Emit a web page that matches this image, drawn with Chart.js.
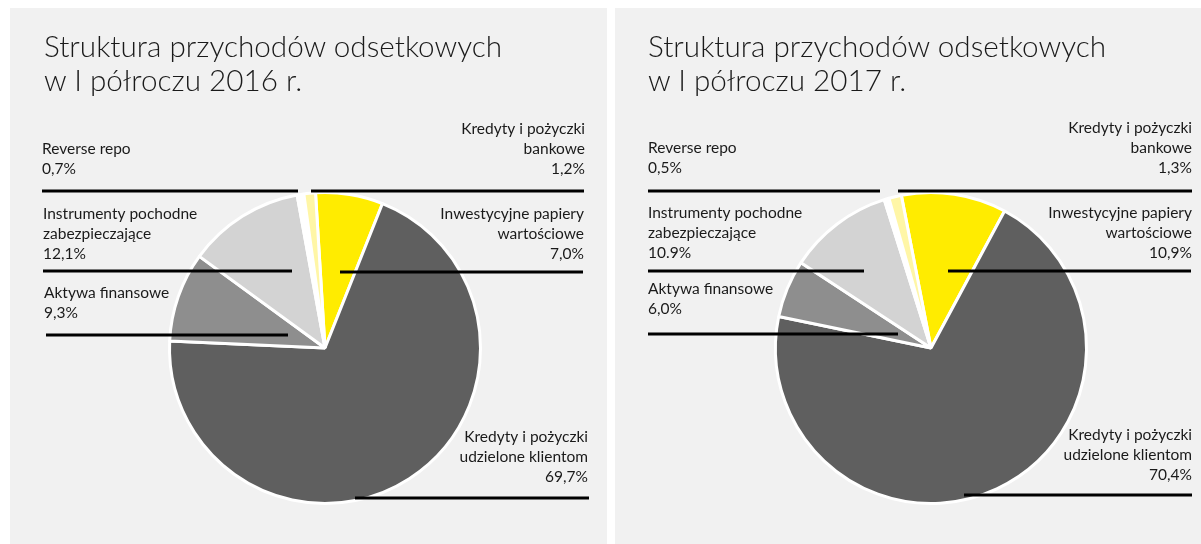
<!DOCTYPE html>
<html>
<head>
<meta charset="utf-8">
<script src="https://cdn.jsdelivr.net/npm/chart.js@4.4.1/dist/chart.umd.min.js"></script>
<style>
  html, body { margin: 0; padding: 0; background: #fff; }
  body { width: 1201px; height: 544px; position: relative; overflow: hidden; font-family: Lato, "Noto Sans", sans-serif; }
  .panel { position: absolute; top: 8px; height: 536px; background: #f1f1f1; }
  .panel canvas { position: absolute; left: 0; top: 0; }
  .title { position: absolute; left: 34px; top: 21px; font-size: 29.7px; line-height: 34px; color: #1a1a1a; font-weight: 300; white-space: nowrap; }
</style>
</head>
<body>
<div class="panel" id="p2016" style="left:10px;width:597px;">
  <canvas id="c2016" width="597" height="536"></canvas>
  <div class="title">Struktura przychodów odsetkowych<br>w I półroczu 2016 r.</div>
</div>
<div class="panel" id="p2017" style="left:615px;width:586px;">
  <canvas id="c2017" width="586" height="536"></canvas>
  <div class="title" style="left:33px;">Struktura przychodów odsetkowych<br>w I półroczu 2017 r.</div>
</div>
<script>
  // categories, clockwise from the top
  const categories = [
    ["Inwestycyjne papiery", "wartościowe"],
    ["Kredyty i pożyczki", "udzielone klientom"],
    ["Aktywa finansowe"],
    ["Instrumenty pochodne", "zabezpieczające"],
    ["Reverse repo"],
    ["Kredyty i pożyczki", "bankowe"],
  ];
  const values2016 = [7.0, 69.7, 9.3, 12.1, 0.7, 1.2];
  const values2017 = [10.9, 70.4, 6.0, 10.9, 0.5, 1.3];
  const pct2016 = ["7,0%", "69,7%", "9,3%", "12,1%", "0,7%", "1,2%"];
  const pct2017 = ["10,9%", "70,4%", "6,0%", "10.9%", "0,5%", "1,3%"];
  const sliceColors = ["#ffec00", "#5f5f5f", "#8e8e8e", "#d3d3d3", "#ffffff", "#fff6a6"];

  // label placement inside each panel (panel pixels): text anchor, first line y, leader y and span
  const place2016 = [
    { align: "right", x: 574, y: 206, lineY: 264, x1: 330, x2: 573 },
    { align: "right", x: 578, y: 429, lineY: 490, x1: 345, x2: 579 },
    { align: "left", x: 34, y: 285, lineY: 327, x1: 36, x2: 278 },
    { align: "left", x: 33, y: 206, lineY: 263, x1: 33, x2: 282 },
    { align: "left", x: 32, y: 141, lineY: 183, x1: 32, x2: 288 },
    { align: "right", x: 575, y: 121, lineY: 183, x1: 301, x2: 574 },
  ];
  const place2017 = [
    { align: "right", x: 577, y: 205, lineY: 263, x1: 333, x2: 576 },
    { align: "right", x: 577, y: 427, lineY: 487, x1: 349, x2: 577 },
    { align: "left", x: 33, y: 281, lineY: 326, x1: 33, x2: 283 },
    { align: "left", x: 33, y: 205, lineY: 263, x1: 33, x2: 249 },
    { align: "left", x: 33, y: 140, lineY: 183, x1: 33, x2: 265 },
    { align: "right", x: 577, y: 120, lineY: 183, x1: 283, x2: 577 },
  ];

  const leaderLabels = {
    id: "leaderLabels",
    afterDraw(chart, args, opts) {
      const ctx = chart.ctx;
      const labels = chart.data.labels;
      ctx.save();
      opts.place.forEach((p, i) => {
        const lines = labels[i].concat([opts.pct[i]]);
        ctx.font = "400 15.5px Lato, 'Noto Sans', sans-serif";
        ctx.fillStyle = "#1a1a1a";
        ctx.textAlign = p.align;
        ctx.textBaseline = "middle";
        lines.forEach((t, j) => ctx.fillText(t, p.x, p.y + j * 20));
        ctx.beginPath();
        ctx.moveTo(p.x1, p.lineY);
        ctx.lineTo(p.x2, p.lineY);
        ctx.lineWidth = 3;
        ctx.strokeStyle = "#000";
        ctx.stroke();
      });
      ctx.restore();
    },
  };

  function makePie(id, values, pct, place, rotation, pad) {
    return new Chart(document.getElementById(id), {
      type: "pie",
      data: {
        labels: categories,
        datasets: [{
          data: values,
          backgroundColor: sliceColors,
          borderColor: "#ffffff",
          borderWidth: 3,
        }],
      },
      options: {
        responsive: false,
        animation: false,
        devicePixelRatio: 1,
        rotation: rotation,
        layout: { padding: pad },
        plugins: {
          legend: { display: false },
          tooltip: { enabled: false },
          leaderLabels: { place, pct },
        },
      },
      plugins: [leaderLabels],
    });
  }

  makePie("c2016", values2016, pct2016, place2016, -3.5, { left: 158, right: 125, top: 183, bottom: 39 });
  makePie("c2017", values2017, pct2017, place2017, -11, { left: 159, right: 113, top: 183, bottom: 39 });
</script>
</body>
</html>
